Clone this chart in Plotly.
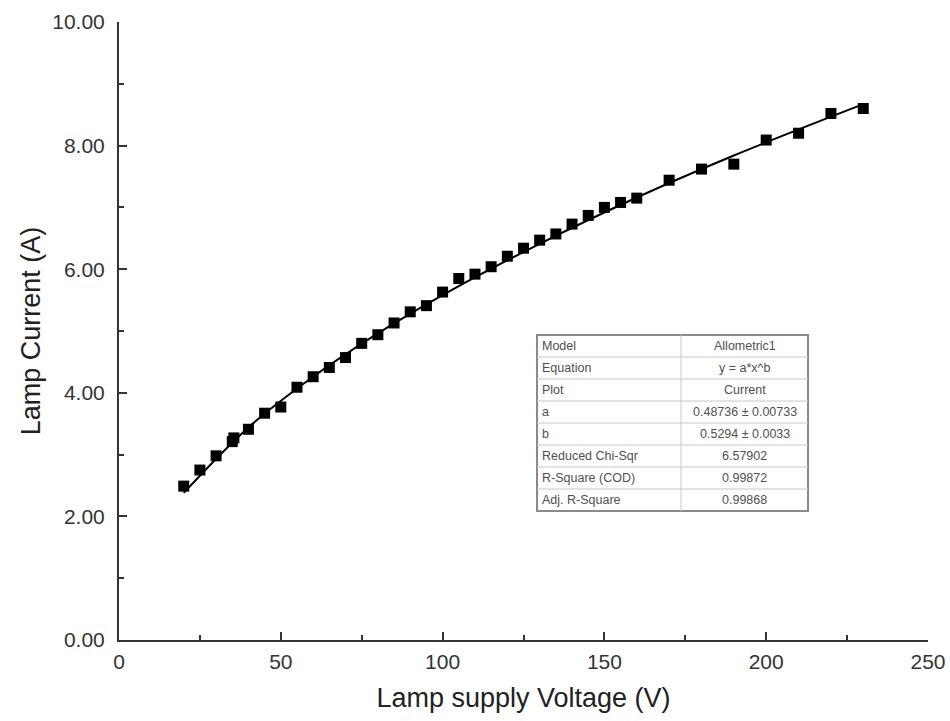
import plotly.graph_objects as go

voltage = [20, 25, 30, 35, 35.5, 40, 45, 50, 55, 60, 65, 70, 75, 80, 85, 90, 95, 100,
           105, 110, 115, 120, 125, 130, 135, 140, 145, 150, 155, 160, 170, 180, 190,
           200, 210, 220, 230]
current = [2.49, 2.75, 2.98, 3.21, 3.27, 3.41, 3.67, 3.77, 4.09, 4.26, 4.41, 4.57, 4.80,
           4.94, 5.13, 5.31, 5.41, 5.63, 5.85, 5.92, 6.04, 6.21, 6.34, 6.47, 6.57, 6.73,
           6.87, 7.00, 7.08, 7.15, 7.44, 7.62, 7.70, 8.09, 8.20, 8.52, 8.60]

# Fitted curve
fit_x = [20, 40, 60, 80, 100, 130, 160, 190, 230]
fit_y = [2.38, 3.44, 4.26, 4.96, 5.58, 6.41, 7.16, 7.84, 8.67]

# Fit summary table
table_labels = ["Model", "Equation", "Plot", "a", "b", "Reduced Chi-Sqr",
                "R-Square (COD)", "Adj. R-Square"]
table_values = ["Allometric1", "y = a*x^b", "Current", "0.48736 ± 0.00733",
                "0.5294 ± 0.0033", "6.57902", "0.99872", "0.99868"]

x_ticks = [0, 50, 100, 150, 200, 250]
y_ticks = [0, 2, 4, 6, 8, 10]

FONT = "Liberation Sans, Arial, sans-serif"

fig = go.Figure()
fig.add_trace(go.Scatter(x=fit_x, y=fit_y, mode="lines",
                         line=dict(color="black", width=2, shape="spline"),
                         showlegend=False, hoverinfo="skip"))
fig.add_trace(go.Scatter(x=voltage, y=current, mode="markers",
                         marker=dict(symbol="square", size=11, color="black"),
                         showlegend=False))

# Table geometry (paper coords of plot area)
W, H = 950, 721
L, R, T, B = 119, 22, 22, 81
pw, ph = W - L - R, H - T - B
def px(x):
    return (x - L) / pw
def py(y):
    return (H - B - y) / ph

tl, tr, tt, tb, tc = 537, 808, 335, 511, 681
n = len(table_labels)
rh = (tb - tt) / n
shapes = []
shapes.append(dict(type="rect", xref="paper", yref="paper",
                   x0=px(tl), x1=px(tr), y0=py(tb), y1=py(tt),
                   line=dict(color="#8a8a8a", width=2), fillcolor="white", layer="above"))
for i in range(1, n):
    yy = py(tt + i * rh)
    shapes.append(dict(type="line", xref="paper", yref="paper",
                       x0=px(tl), x1=px(tr), y0=yy, y1=yy,
                       line=dict(color="#c8c8c8", width=1), layer="above"))
shapes.append(dict(type="line", xref="paper", yref="paper",
                   x0=px(tc), x1=px(tc), y0=py(tb), y1=py(tt),
                   line=dict(color="#c8c8c8", width=1), layer="above"))

annotations = []
for i, (lab, val) in enumerate(zip(table_labels, table_values)):
    yc = py(tt + (i + 0.5) * rh)
    annotations.append(dict(xref="paper", yref="paper", x=px(tl + 3), y=yc,
                            text=lab, showarrow=False, xanchor="left", yanchor="middle",
                            font=dict(family=FONT, size=12.5, color="#505050")))
    annotations.append(dict(xref="paper", yref="paper", x=px((tc + tr) / 2), y=yc,
                            text=val, showarrow=False, xanchor="center", yanchor="middle",
                            font=dict(family=FONT, size=12.5, color="#505050")))

fig.update_layout(
    width=W, height=H,
    margin=dict(l=L, r=R, t=T, b=B),
    plot_bgcolor="white", paper_bgcolor="white",
    font=dict(family=FONT, color="#222"),
    shapes=shapes, annotations=annotations,
    xaxis=dict(range=[0, 250], tickvals=x_ticks, ticktext=[str(v) for v in x_ticks],
               automargin=False,
               showgrid=False, zeroline=False, showline=True, linecolor="#333", linewidth=2,
               ticks="inside", ticklen=8, tickwidth=2, tickcolor="#333",
               minor=dict(tickvals=[25, 75, 125, 175, 225], ticks="inside", ticklen=5,
                          tickwidth=2, tickcolor="#333"),
               tickfont=dict(size=21, color="#333"), ticklabelstandoff=2,
               title=dict(text="Lamp supply Voltage (V)", font=dict(size=27, color="#222"),
                          standoff=16)),
    yaxis=dict(range=[0, 10], tickvals=y_ticks, ticktext=[f"{v:.2f}" for v in y_ticks],
               automargin=False,
               showgrid=False, zeroline=False, showline=True, linecolor="#333", linewidth=2,
               ticks="inside", ticklen=8, tickwidth=2, tickcolor="#333",
               minor=dict(tickvals=[1, 3, 5, 7, 9], ticks="inside", ticklen=5,
                          tickwidth=2, tickcolor="#333"),
               tickfont=dict(size=21, color="#333"), ticklabelstandoff=8,
               title=dict(text="Lamp Current (A)", font=dict(size=27, color="#222"),
                          standoff=4)),
)

fig.write_html("out.html")
